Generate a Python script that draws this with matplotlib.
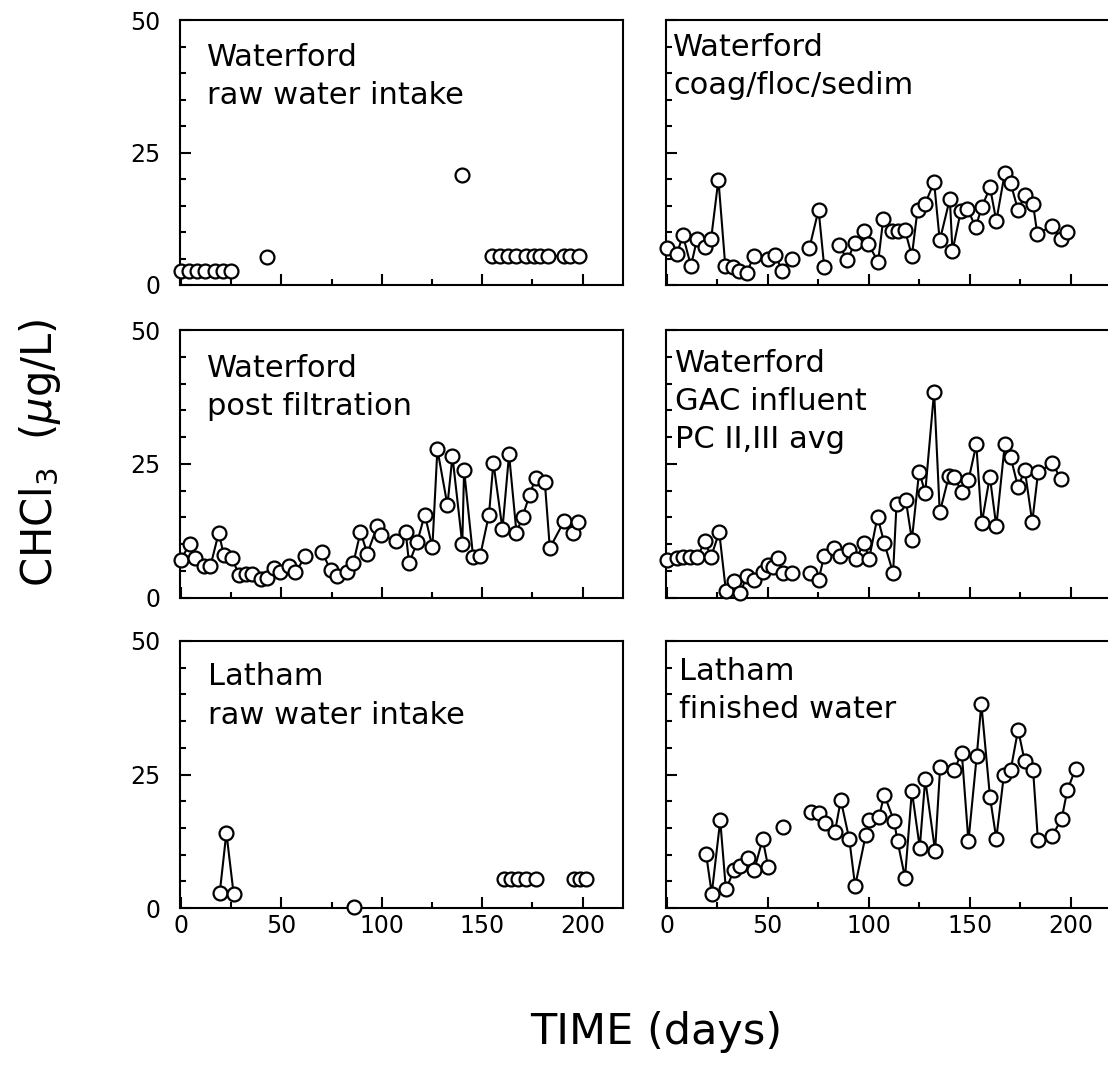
import numpy as np
import matplotlib
matplotlib.use("Agg")
import matplotlib.pyplot as plt
from matplotlib.ticker import MultipleLocator

nan = np.nan

# Waterford raw water intake
wf_raw_day = [0, 4, 8, 12, 17, 21, 25, nan, 43, nan, 140, nan,
              155, 159, 163, 167, 172, 176, 179, 183, 191, 194, 198]
wf_raw_val = [2.7, 2.7, 2.7, 2.7, 2.7, 2.7, 2.7, nan, 5.2, nan, 20.8, nan,
              5.5, 5.5, 5.5, 5.5, 5.5, 5.5, 5.5, 5.5, 5.5, 5.5, 5.5]

# Waterford coag/floc/sedim
wf_coag_day = [0, 5, 8, 12, 15, 19, 22, 25.6, 29, 32.6, 36, 39.7, 43, 50, 53.8, 57, 61.8, nan,
               70.6, 75.2, 78, nan,
               85.4, 89.5, 93.2, 97.8, 99.8, 104.7, 107.2, 111.8, 114.3, 118, 121.4, 124.2,
               127.8, 132.4, 135.2, 140.2, 141.5, 145.6, 148.9, 153, 156, 160.1, 163.2,
               167.4, 170.3, 174, 177.3, 181.4, 183.5, 191, 195, 198.4]
wf_coag_val = [6.9, 5.8, 9.4, 3.6, 8.6, 7.2, 8.75, 19.9, 3.6, 3.4, 2.7, 2.2, 5.5, 5.0, 5.75, 2.7, 5.0, nan,
               6.9, 14.2, 3.4, nan,
               7.5, 4.7, 8.0, 10.2, 7.7, 4.4, 12.4, 10.2, 10.2, 10.3, 5.5, 14.2,
               15.2, 19.4, 8.4, 16.25, 6.4, 13.9, 14.4, 10.9, 14.7, 18.4, 12.1,
               21.1, 19.2, 14.1, 16.9, 15.2, 9.7, 11.1, 8.75, 10.0]

# Waterford post filtration
wf_post_day = [0, 4.3, 7.2, 11.3, 14.6, 18.8, 21.3, 25.4, 28.8, 32.6, 35.4, 39.6, 42.9, 46.5,
               49.5, 53.7, 57, 62, nan,
               70.3, 74.5, 77.8, 82.8, 85.8, 89.4, 92.8, 97.8, 99.4, 106.9, 111.9, 113.6,
               117.7, 121.4, 125.2, 127.7, 132.7, 135.2, 140.1, 141, 145.5, 149, 153.4,
               155.6, 160.1, 163.4, 167.1, 170.1, 173.7, 176.7, 181.2, 183.7, 190.8, 195, 197.8]
wf_post_val = [7.1, 10.0, 7.4, 5.8, 5.8, 12.1, 8.0, 7.4, 4.25, 4.4, 4.4, 3.4, 3.6, 5.5,
               4.7, 5.8, 4.7, 7.7, nan,
               8.5, 5.1, 4.1, 4.7, 6.4, 12.25, 8.2, 13.4, 11.75, 10.5, 12.25, 6.4,
               10.4, 15.5, 9.4, 27.7, 17.25, 26.4, 10.0, 23.8, 7.6, 7.8, 15.5,
               25.2, 12.8, 26.75, 12.1, 15.1, 19.25, 22.4, 21.6, 9.25, 14.25, 12.1, 14.1]

# Waterford GAC influent, PC II,III avg
wf_gac_day = [0, 5.1, 7.9, 11.7, 15, 19, 21.9, 26, 29.3, 33.1, 36.4, 39.7, 43.4, 47.5, 50,
              52.4, 54.9, 57.4, 62, nan,
              71.1, 75.2, 78, 82.9, 85.9, 90.4, 93.7, 97.8, 100.2, 104.4, 107.7, 112.1,
              113.8, 118.4, 121.4, 125, 128, 132.4, 135.2, 139.8, 142.3, 146.1, 149.4,
              153.3, 156, 160, 163.2, 167.4, 170.3, 174, 177.3, 181, 183.9, 191, 195.2]
wf_gac_val = [7.0, 7.4, 7.5, 7.5, 7.5, 10.5, 7.5, 12.25, 1.25, 3.0, 0.75, 4.1, 3.3, 4.7, 6.1,
              5.65, 7.35, 4.6, 4.6, nan,
              4.6, 3.3, 7.85, 9.2, 7.85, 8.8, 7.2, 10.2, 7.2, 15.1, 10.2, 4.6,
              17.5, 18.2, 10.8, 23.55, 19.6, 38.5, 15.9, 22.8, 22.6, 19.7, 21.9,
              28.6, 13.9, 22.6, 13.3, 28.6, 26.25, 20.6, 23.9, 14.1, 23.4, 25.1, 22.1]

# Latham raw water intake
lt_raw_day = [19.3, 22.6, 26.2, nan, 86, nan, 161, 164.5, 168, 172, 177, nan, 195.5, 198.5, 201.8]
lt_raw_val = [2.85, 14.1, 2.7, nan, 0.2, nan, 5.4, 5.4, 5.4, 5.4, 5.4, nan, 5.4, 5.4, 5.4]

# Latham finished water
lt_fin_day = [19.5, 22.3, 26.5, 29.3, 33.5, 36.4, 40.1, 43.4, 47.5, 50.3, nan, 57.4, nan,
              71.4, 75.5, 78.3, 83.3, 86.2, 90.4, 93.3, 98.6, 100.2, 105.2, 107.7, 112.6,
              114.3, 118, 121.4, 125.3, 128, 132.9, 135.4, 142.3, 146.1, 149.4, 153.5,
              155.8, 160.1, 163.2, 167, 170.3, 174, 177.2, 181.4, 183.8, 190.9, 195.6,
              198.4, 202.5]
lt_fin_val = [10.1, 2.7, 16.4, 3.5, 7.2, 7.9, 9.4, 7.2, 12.9, 7.6, nan, 15.1, nan,
              17.9, 17.7, 16.0, 14.25, 20.2, 12.9, 4.1, 13.75, 16.4, 17.1, 21.25, 16.25,
              12.5, 5.7, 21.9, 11.3, 24.1, 10.7, 26.4, 25.8, 29.1, 12.5, 28.4,
              38.2, 20.7, 13.0, 25.0, 25.8, 33.4, 27.6, 25.9, 12.8, 13.5, 16.75,
              22.1, 26.1]

panel_labels = [
    "Waterford\nraw water intake",
    "Waterford\ncoag/floc/sedim",
    "Waterford\npost filtration",
    "Waterford\nGAC influent\nPC II,III avg",
    "Latham\nraw water intake",
    "Latham\nfinished water",
]
series = [
    (wf_raw_day, wf_raw_val), (wf_coag_day, wf_coag_val),
    (wf_post_day, wf_post_val), (wf_gac_day, wf_gac_val),
    (lt_raw_day, lt_raw_val), (lt_fin_day, lt_fin_val),
]

W, H = 1108, 1065
fig = plt.figure(figsize=(W / 100, H / 100), dpi=100)

# axes boxes in pixels: (left, right) per column, (top, bottom) per row
col_x = [(180, 622.7), (665.7, 1111)]
row_y = [(20, 285), (330, 597.5), (641, 908)]
# label anchor (axes fraction) per panel
label_pos = [(0.06, 0.915), (0.017, 0.95), (0.062, 0.91), (0.021, 0.93), (0.063, 0.92), (0.03, 0.94)]

for i, ((x, y), label) in enumerate(zip(series, panel_labels)):
    r, c = divmod(i, 2)
    x0, x1 = col_x[c]
    y0, y1 = row_y[r]
    ax = fig.add_axes([x0 / W, 1 - y1 / H, (x1 - x0) / W, (y1 - y0) / H])
    ax.plot(x, y, color='black', linewidth=1.5, marker='o', markersize=10,
            markerfacecolor='white', markeredgecolor='black', markeredgewidth=1.6,
            clip_on=False, zorder=3)
    ax.set_xlim(-0.5, 220)
    ax.set_ylim(0, 50)
    ax.xaxis.set_major_locator(MultipleLocator(50))
    ax.xaxis.set_minor_locator(MultipleLocator(25))
    ax.yaxis.set_major_locator(MultipleLocator(25))
    ax.yaxis.set_minor_locator(MultipleLocator(5))
    ax.tick_params(which='both', direction='in', width=1.5, labelsize=17, pad=4)
    ax.tick_params(which='major', length=8)
    ax.tick_params(which='minor', length=4)
    ax.tick_params(axis='y', pad=14)
    for s in ax.spines.values():
        s.set_linewidth(1.5)
    if r < 2:
        ax.tick_params(labelbottom=False)
    if c == 1:
        ax.tick_params(labelleft=False)
    ax.text(label_pos[i][0], label_pos[i][1], label, transform=ax.transAxes,
            ha='left', va='top', fontsize=22, linespacing=1.4)

fig.text(40 / W, 1 - 453 / H, r'CHCl$_3$  ($\mu$g/L)', rotation=90,
         ha='center', va='center', fontsize=30)
fig.text(656 / W, 1 - 1032 / H, 'TIME (days)', ha='center', va='center', fontsize=31)

fig.savefig('out.png', dpi=100)
